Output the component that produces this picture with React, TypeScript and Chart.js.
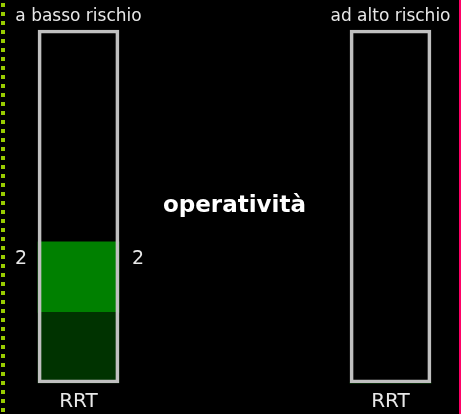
import React, { useEffect, useRef } from "react";
import { Chart, registerables } from "chart.js";

Chart.register(...registerables);

const categories = ["a basso rischio", "ad alto rischio"];
const bottomLabels = ["RRT", "RRT"];
const darkValues = [2, 0];
const greenValues = [2, 0];
const scaleMax = [10, 10];
const centerTitle = "operatività";
const centerValue = 5;

const FONT = "'DejaVu Sans', Verdana, sans-serif";

const decorPlugin = {
  id: "decor",
  beforeDraw(chart: any) {
    const { ctx, width, height } = chart;
    ctx.save();
    ctx.fillStyle = "#000000";
    ctx.fillRect(0, 0, width, height);
    // left dotted line
    ctx.strokeStyle = "#99cc00";
    ctx.lineWidth = 4;
    ctx.setLineDash([4, 5]);
    ctx.beginPath();
    ctx.moveTo(3, 3);
    ctx.lineTo(3, height);
    ctx.stroke();
    ctx.setLineDash([]);
    // right pink line
    ctx.fillStyle = "#ff0066";
    ctx.fillRect(width - 2, 0, 2, height);
    ctx.restore();
  },
  afterDatasetsDraw(chart: any) {
    const { ctx } = chart;
    const xs = chart.scales.x;
    const ys = chart.scales.y;
    ctx.save();
    ctx.fillStyle = "#e8e8e8";
    ctx.textAlign = "center";
    ctx.textBaseline = "alphabetic";
    ctx.font = `17px ${FONT}`;
    categories.forEach((c, i) => {
      ctx.fillText(c, xs.getPixelForValue(i), 21);
    });
    ctx.font = `20px ${FONT}`;
    bottomLabels.forEach((c, i) => {
      ctx.fillText(c, xs.getPixelForValue(i), 407);
    });
    // value labels beside green segment
    const meta = chart.getDatasetMeta(1);
    ctx.font = `19px ${FONT}`;
    meta.data.forEach((bar: any, i: number) => {
      const v = greenValues[i];
      if (!v) return;
      const y = bar.y + 22;
      ctx.fillText(String(v), bar.x - bar.width / 2 - 17, y);
      ctx.fillText(String(v), bar.x + bar.width / 2 + 19, y);
    });
    // center title
    ctx.fillStyle = "#ffffff";
    ctx.font = `bold 23px ${FONT}`;
    ctx.textBaseline = "middle";
    const cx = (xs.getPixelForValue(0) + xs.getPixelForValue(1)) / 2;
    ctx.fillText(centerTitle, cx, ys.getPixelForValue(centerValue));
    ctx.restore();
  },
};

export default function App() {
  const ref = useRef<HTMLCanvasElement>(null);
  useEffect(() => {
    const common = {
      grouped: false,
      barThickness: 81,
      clip: false as any,
      borderSkipped: false as any,
    };
    const chart = new Chart(ref.current!, {
      type: "bar",
      data: {
        labels: categories,
        datasets: [
          { ...common, label: "base", data: darkValues, backgroundColor: "#003300", borderWidth: 0, stack: "fill", order: 1 },
          { ...common, label: "operatività", data: greenValues, backgroundColor: "#008000", borderWidth: 0, stack: "fill", order: 2 },
          { ...common, label: "box", data: scaleMax, backgroundColor: "rgba(0,0,0,0)", borderColor: "#c0c0c0", borderWidth: 3, stack: "box", order: 0 },
        ],
      },
      options: {
        responsive: false,
        animation: false,
        layout: { padding: { left: 78.5, right: 70.5, top: 30, bottom: 31 } },
        plugins: { legend: { display: false }, tooltip: { enabled: false } },
        scales: {
          x: { display: false, offset: false, grid: { offset: false } },
          y: { display: false, stacked: true, min: 0, max: 10 },
        },
      },
      plugins: [decorPlugin],
    });
    return () => chart.destroy();
  }, []);
  return (
    <div style={{ position: "fixed", left: 0, top: 0, width: 461, height: 414, background: "#000" }}>
      <canvas ref={ref} width={461} height={414} style={{ display: "block" }} />
    </div>
  );
}
